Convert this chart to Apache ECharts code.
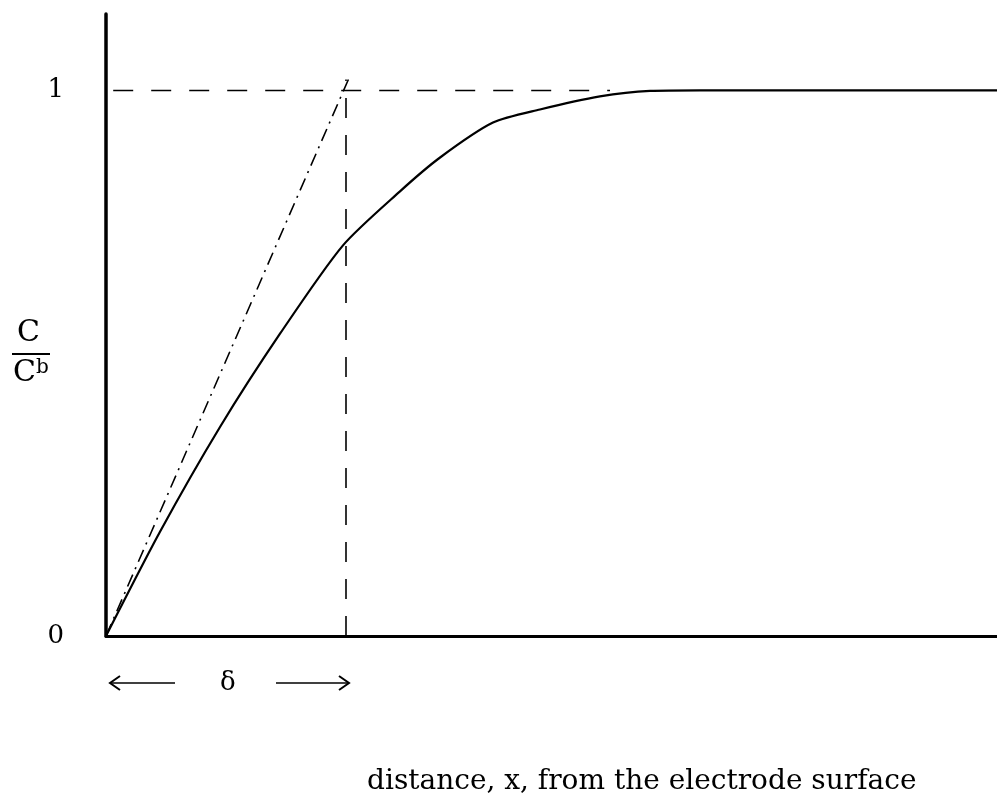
<!DOCTYPE html>
<html>
<head>
<meta charset="utf-8">
<script src="https://cdn.jsdelivr.net/npm/echarts@6/dist/echarts.min.js"></script>
<style>html,body{margin:0;padding:0;background:#fff;}#c{width:997px;height:808px;}</style>
</head>
<body>
<div id="c"></div>
<script>
// x in units of the diffusion-layer thickness delta; y = C / C^b
var curveX = [0, 0.225, 0.475, 0.725, 0.9875, 1.225, 1.392, 1.6125, 1.808, 2.058, 2.267, 2.475, 3.7125];
var curveY = [0, 0.191, 0.383, 0.554, 0.716, 0.815, 0.877, 0.941, 0.965, 0.989, 0.999, 1.0, 1.0];
var tangentX = [0, 1.01];
var tangentY = [0, 1.02];
var bulkX = [0.03, 2.1];
var bulkY = [1, 1];
var deltaX = [1, 1];
var deltaY = [0, 1.02];
var yTickLabels = ['0', '1'];
var xTitle = 'distance, x, from the electrode surface';

function pairs(xs, ys) { return xs.map(function (x, i) { return [x, ys[i]]; }); }

var chart = echarts.init(document.getElementById('c'), null, { renderer: 'canvas' });
var serif = '"DejaVu Serif", "Liberation Serif", serif';
chart.setOption({
  animation: false,
  backgroundColor: '#fff',
  grid: { left: 106, right: 0, top: 14, bottom: 172, containLabel: false },
  xAxis: {
    type: 'value', min: 0, max: 3.7125,
    axisLine: { show: true, onZero: false, lineStyle: { color: '#000', width: 3 } },
    axisTick: { show: false }, axisLabel: { show: false }, splitLine: { show: false }
  },
  yAxis: {
    type: 'value', min: 0, max: 1.14, interval: 1,
    axisLine: { show: true, lineStyle: { color: '#000', width: 3.5 } },
    axisTick: { show: false }, splitLine: { show: false },
    axisLabel: {
      show: true, margin: 42, showMaxLabel: false, color: '#000',
      fontFamily: serif, fontSize: 26,
      formatter: function (v) { return yTickLabels[Math.round(v)] || ''; }
    }
  },
  series: [
    { type: 'line', data: pairs(curveX, curveY), smooth: 0.25, showSymbol: false, z: 5,
      lineStyle: { color: '#000', width: 2.2 } },
    { type: 'line', data: pairs(tangentX, tangentY), showSymbol: false,
      lineStyle: { color: '#000', width: 1.6, type: [13, 6, 2, 6] } },
    { type: 'line', data: pairs(bulkX, bulkY), showSymbol: false,
      lineStyle: { color: '#000', width: 1.5, type: [20, 18] } },
    { type: 'line', data: pairs(deltaX, deltaY), showSymbol: false,
      lineStyle: { color: '#000', width: 1.6, type: [20, 17] } }
  ],
  graphic: [
    { type: 'text', left: 17, top: 318, style: { text: 'C', font: '30px ' + serif, fill: '#000' } },
    { type: 'line', shape: { x1: 12, y1: 354, x2: 50, y2: 354 }, style: { stroke: '#000', lineWidth: 2 } },
    { type: 'text', left: 13, top: 358, style: { text: '{c|C}{b|b}', font: '30px ' + serif, fill: '#000',
        rich: { c: { fontSize: 30, fontFamily: serif }, b: { fontSize: 20, fontFamily: serif, verticalAlign: 'top', padding: [0, 0, 10, 0] } } } },
    { type: 'polyline', shape: { points: [[120, 676], [110, 683], [120, 690]] }, style: { stroke: '#000', lineWidth: 2, fill: null } },
    { type: 'line', shape: { x1: 111, y1: 683, x2: 175, y2: 683 }, style: { stroke: '#000', lineWidth: 1.5 } },
    { type: 'text', left: 220, top: 670, style: { text: 'δ', font: '26px ' + serif, fill: '#000' } },
    { type: 'line', shape: { x1: 276, y1: 683, x2: 349, y2: 683 }, style: { stroke: '#000', lineWidth: 1.5 } },
    { type: 'polyline', shape: { points: [[339, 676], [349, 683], [339, 690]] }, style: { stroke: '#000', lineWidth: 2, fill: null } },
    { type: 'text', left: 367, top: 768, style: { text: xTitle, font: '28px ' + serif, fill: '#000' } }
  ]
});
</script>
</body>
</html>
